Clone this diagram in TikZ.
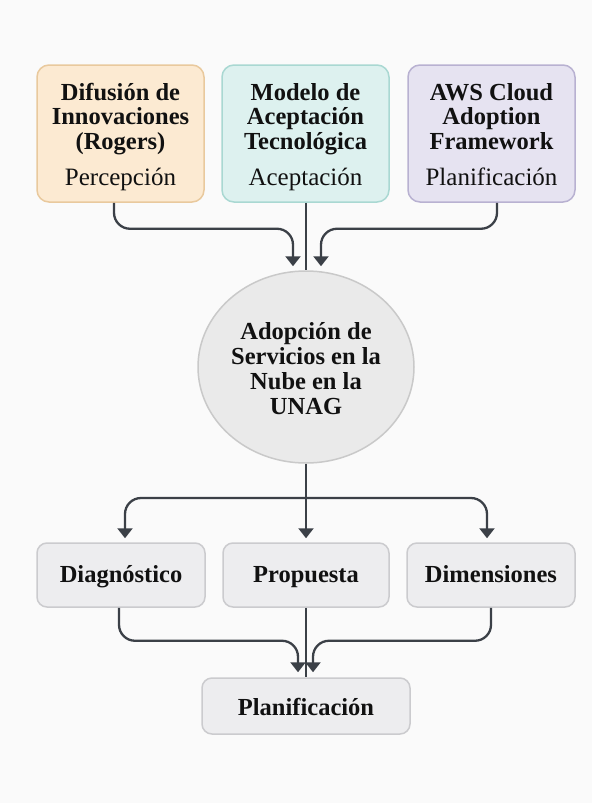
\documentclass[tikz,border=0pt]{standalone}
\usepackage{fontspec}
\setmainfont{Liberation Serif}
\usetikzlibrary{arrows.meta,shapes.geometric}
\definecolor{bgc}{HTML}{FAFAFA}
\definecolor{peachF}{HTML}{FCEAD2}
\definecolor{peachD}{HTML}{E9C99D}
\definecolor{tealF}{HTML}{DDF1EF}
\definecolor{tealD}{HTML}{A9D8D2}
\definecolor{lavF}{HTML}{E6E3F1}
\definecolor{lavD}{HTML}{B8B1D1}
\definecolor{grayF}{HTML}{EDEDEF}
\definecolor{grayD}{HTML}{CBCBCE}
\definecolor{hubF}{HTML}{EAEAEA}
\definecolor{hubD}{HTML}{C9C9C9}
\definecolor{lineC}{HTML}{3B4047}
\definecolor{txt}{HTML}{111111}
\newcommand{\subfnt}{\mdseries\fontsize{25}{24.5}\selectfont}
\newcommand{\topcontent}[4]{\begin{tabular}[t]{@{}c@{}}#1\\#2\\#3\\[12pt]\subfnt #4\end{tabular}}
\tikzset{
  topbox/.style={draw, line width=1.5pt, rounded corners=12pt, minimum width=167pt, minimum height=137pt,
    align=center, text=txt, inner sep=0pt, text height=0pt, text depth=67pt,
    font=\bfseries\fontsize{24.5}{24.5}\selectfont},
  midbox/.style={draw=grayD, fill=grayF, line width=1.5pt, rounded corners=10pt, minimum height=64pt,
    align=center, text=txt, inner sep=0pt, text height=18pt, text depth=4pt, font=\bfseries\fontsize{24.5}{25}\selectfont},
  hubnode/.style={ellipse, draw=hubD, fill=hubF, line width=1.5pt, minimum width=216pt, minimum height=192pt,
    align=center, text=txt, inner sep=0pt, text height=0pt, text depth=56pt,
    font=\bfseries\fontsize{24.5}{25}\selectfont},
  conn/.style={draw=lineC, line width=2.3pt, rounded corners=16pt},
  arr/.style={-{Triangle[width=15pt,length=10pt]}}
}
\begin{document}
\begin{tikzpicture}[x=1pt,y=-1pt]
\fill[bgc] (0,0) rectangle (592,803);
\useasboundingbox (0,0) rectangle (592,803);

\node[topbox, draw=peachD, fill=peachF] (t1) at (120.5,133.5)
  {\topcontent{Difusión de}{Innovaciones}{(Rogers)}{Percepción}};
\node[topbox, draw=tealD, fill=tealF] (t2) at (305.5,133.5)
  {\topcontent{Modelo de}{Aceptación}{Tecnológica}{Aceptación}};
\node[topbox, draw=lavD, fill=lavF] (t3) at (491.5,133.5)
  {\topcontent{AWS Cloud}{Adoption}{Framework}{Planificación}};

\node[hubnode] (hub) at (306,367)
  {\begin{tabular}[t]{@{}c@{}}Adopción de\\Servicios en la\\Nube en la\\UNAG\end{tabular}};

\node[midbox, minimum width=168pt] (mA) at (121,575) {Diagnóstico};
\node[midbox, minimum width=166pt] (mB) at (306,575) {Propuesta};
\node[midbox, minimum width=168pt] (mC) at (491,575) {Dimensiones};

\node[midbox, minimum width=208pt, minimum height=56pt, text height=20pt, text depth=2pt] (bot) at (306,706) {Planificación};

% top connectors
\draw[conn, arr] ([xshift=-6.5pt]t1.south) -- ++(0,26) -| ([xshift=-13pt,yshift=4pt]hub.north);
\draw[conn] (hub.north |- t2.south) -- (hub.north);
\draw[conn, arr] ([xshift=5.5pt]t3.south) -- ++(0,26) -| ([xshift=15pt,yshift=4pt]hub.north);

% hub to middle row
\coordinate (split) at (306,498);
\draw[conn, arr] (hub.south) -- ([yshift=4pt]mB.north);
\draw[conn, arr] (split) -| ([xshift=4pt,yshift=4pt]mA.north);
\draw[conn, arr] (split) -| ([xshift=-4pt,yshift=4pt]mC.north);

% middle row to bottom
\draw[conn, arr] ([xshift=-2pt]mA.south) -- ++(0,33) -| ([xshift=-8pt,yshift=5pt]bot.north);
\draw[conn] (mB.south) -- (bot.north);
\draw[conn, arr] (mC.south) -- ++(0,33) -| ([xshift=7pt,yshift=5pt]bot.north);
\end{tikzpicture}
\end{document}
